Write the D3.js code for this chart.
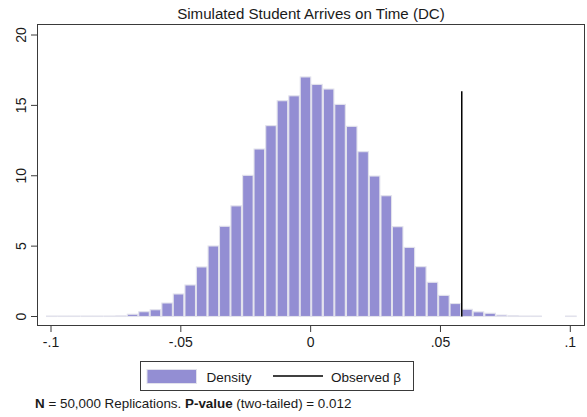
<!DOCTYPE html>
<html><head><meta charset="utf-8">
<script src="https://cdn.jsdelivr.net/npm/d3@7"></script>
<style>body{margin:0;background:#fff}svg{display:block}text{font-family:"Liberation Sans",Arial,Helvetica,sans-serif;fill:#1a1a1a}</style>
</head><body>
<svg id="c" width="587" height="417"></svg>
<script>
const title = "Simulated Student Arrives on Time (DC)";
const binStart = [-0.1019,-0.0975,-0.0931,-0.0886,-0.0842,-0.0797,-0.0753,-0.0708,-0.0664,-0.0620,
 -0.0575,-0.0531,-0.0486,-0.0442,-0.0397,-0.0353,-0.0309,-0.0264,-0.0220,-0.0175,
 -0.0131,-0.0086,-0.0042,0.0002,0.0047,0.0091,0.0136,0.0180,0.0224,0.0269,
 0.0313,0.0358,0.0402,0.0447,0.0491,0.0535,0.0580,0.0624,0.0669,0.0713,
 0.0758,0.0802,0.0846,0.0891,0.0935,0.0980];
const binWidth = 0.00444;
const density = [0.004,0.004,0.004,0.004,0.009,0.018,0.045,0.16,0.34,0.48,
 0.96,1.60,2.24,3.52,5.01,6.41,7.86,10.03,11.90,13.56,
 15.33,15.68,17.02,16.49,16.16,15.07,13.51,11.71,9.98,8.58,
 6.38,4.91,3.54,2.43,1.50,0.92,0.51,0.33,0.23,0.10,
 0.05,0.02,0.015,0,0,0.005];
const observedBeta = 0.0582;
const observedTop = 16;
const xTicks = [-0.1,-0.05,0,0.05,0.1];
const xTickLabels = ["-.1","-.05","0",".05",".1"];
const yTicks = [0,5,10,15,20];
const legendLabels = ["Density","Observed β"];

const svg = d3.select("#c");
const L = 37, R = 585, T = 24, B = 326;
const x = d3.scaleLinear().domain([-0.1,0.1]).range([51,570.3]);
const y = d3.scaleLinear().domain([0,20]).range([316.5,35]);

svg.append("rect").attr("x",L+0.5).attr("y",T+0.5).attr("width",R-L-1).attr("height",B-T-1)
  .attr("fill","none").attr("stroke","#3a3a3a").attr("stroke-width",1);

const barColor = "#938ed3", barStroke = "#e2e2ec";
svg.append("g").selectAll("rect").data(binStart.map((s,i)=>({s,d:density[i]})).filter(d=>d.d>0))
  .join("rect")
  .attr("x",d=>x(d.s)+0.5)
  .attr("width",d=>x(d.s+binWidth)-x(d.s)-1)
  .attr("y",d=>Math.min(y(d.d),y(0)-0.5))
  .attr("height",d=>Math.max(y(0)-y(d.d),0.5))
  .attr("fill",barColor).attr("stroke",barStroke).attr("stroke-width",1.1);

svg.append("line").attr("x1",x(observedBeta)).attr("x2",x(observedBeta))
  .attr("y1",y(0)).attr("y2",y(observedTop)).attr("stroke","#000").attr("stroke-width",1.5);

// y axis
const ya = svg.append("g");
yTicks.forEach(t=>{
  ya.append("line").attr("x1",31).attr("x2",L).attr("y1",y(t)).attr("y2",y(t)).attr("stroke","#3a3a3a");
  ya.append("text").attr("transform",`translate(25.5,${y(t)}) rotate(-90)`).attr("text-anchor","middle")
    .attr("font-size",14).text(t);
});
// x axis
const xa = svg.append("g");
xTicks.forEach((t,i)=>{
  xa.append("line").attr("x1",x(t)).attr("x2",x(t)).attr("y1",B).attr("y2",B+6).attr("stroke","#3a3a3a");
  xa.append("text").attr("x",x(t)).attr("y",346.5).attr("text-anchor","middle").attr("font-size",14).text(xTickLabels[i]);
});

svg.append("text").attr("x",311).attr("y",19).attr("text-anchor","middle").attr("font-size",15.1).text(title);

// legend
const lg = svg.append("g");
lg.append("rect").attr("x",140.5).attr("y",361.5).attr("width",273).attr("height",29).attr("fill","#fff").attr("stroke","#3a3a3a");
lg.append("rect").attr("x",147).attr("y",369.5).attr("width",49.5).attr("height",14).attr("fill",barColor).attr("stroke",barStroke);
lg.append("text").attr("x",206.5).attr("y",381.5).attr("font-size",13.5).text(legendLabels[0]);
lg.append("line").attr("x1",273).attr("x2",323).attr("y1",376).attr("y2",376).attr("stroke","#000").attr("stroke-width",1.3);
lg.append("text").attr("x",331).attr("y",381.5).attr("font-size",13.5).text(legendLabels[1]);

// note
const note = svg.append("text").attr("x",35).attr("y",408).attr("font-size",13.4);
note.append("tspan").attr("font-weight","bold").text("N");
note.append("tspan").text(" = 50,000 Replications. ");
note.append("tspan").attr("font-weight","bold").text("P-value");
note.append("tspan").text(" (two-tailed) = 0.012");
</script>
</body></html>
